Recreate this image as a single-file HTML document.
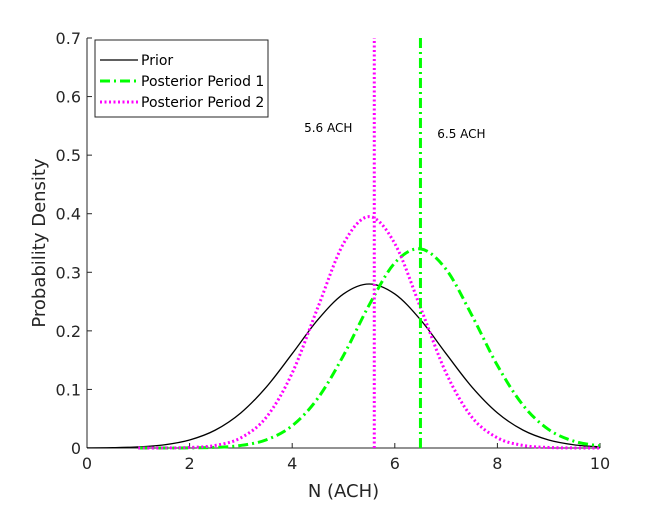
<!DOCTYPE html>
<html><head><meta charset="utf-8"><style>
html,body{margin:0;padding:0;background:#fff;}
svg text{font-family:"DejaVu Sans","Liberation Sans",sans-serif;}
</style></head><body>
<svg id="chart" width="664" height="504" viewBox="0 0 664 504" xmlns="http://www.w3.org/2000/svg">
<rect width="664" height="504" fill="#fff"/>
<g id="plot"></g>
</svg>
<script>
const xs = [0,0.5,1,1.5,2,2.5,3,3.5,4,4.5,5,5.5,6,6.5,7,7.5,8,8.5,9,9.5,10];
const priorVals = [0.0002,0.0006,0.0019,0.0054,0.0137,0.0305,0.060,0.1045,0.161,0.219,0.263,0.28,0.263,0.219,0.161,0.1045,0.060,0.0305,0.0137,0.0054,0.0019];
const post1Xs = [1,1.5,2,2.5,3,3.5,4,4.5,5,5.5,6,6.5,7,7.5,8,8.5,9,9.5,10];
const post1Vals = [0,0,0.0002,0.0011,0.0044,0.0141,0.038,0.085,0.158,0.244,0.316,0.34,0.305,0.227,0.141,0.073,0.0315,0.0114,0.0034];
const post2Xs = [1,1.5,2,2.5,3,3.5,4,4.5,5,5.5,6,6.5,7,7.5,8,8.5,9,9.5,10];
const post2Vals = [0,0.0001,0.0009,0.0044,0.0174,0.053,0.128,0.240,0.349,0.395,0.349,0.240,0.128,0.053,0.0174,0.0044,0.0009,0.0001,0];
const markers = [5.6, 6.5];
const markerLabels = ["5.6 ACH","6.5 ACH"];
const xTicks = [0,2,4,6,8,10];
const yTicks = [0,0.1,0.2,0.3,0.4,0.5,0.6,0.7];

const X0=87,X1=600,Y0=448,Y1=38;
const sx=v=>X0+(v-0)/(10-0)*(X1-X0);
const sy=v=>Y0-(v-0)/(0.7-0)*(Y0-Y1);
const NS="http://www.w3.org/2000/svg";
const g=document.getElementById('plot');
function mk(t,a){const e=document.createElementNS(NS,t);for(const k in a)e.setAttribute(k,a[k]);g.appendChild(e);return e;}
function smooth(px,py){
  const p=px.map((x,i)=>[sx(x),sy(py[i])]);
  let d="M"+p[0][0]+","+p[0][1];
  for(let i=0;i<p.length-1;i++){
    const p0=p[i-1]||p[i],p1=p[i],p2=p[i+1],p3=p[i+2]||p[i+1];
    const c1=[p1[0]+(p2[0]-p0[0])/6,p1[1]+(p2[1]-p0[1])/6];
    const c2=[p2[0]-(p3[0]-p1[0])/6,p2[1]-(p3[1]-p1[1])/6];
    d+=" C"+c1+" "+c2+" "+p2;
  }
  return d;
}
let e=mk('line',{x1:X0,y1:Y0,x2:X1,y2:Y0,stroke:'#262626','stroke-width':1});


e=mk('line',{x1:X0,y1:Y0,x2:X0,y2:Y1,stroke:'#262626','stroke-width':1});


xTicks.forEach(t=>{
  mk('line',{x1:sx(t),y1:Y0,x2:sx(t),y2:Y0-5,stroke:'#262626'});
  e=mk('text',{x:sx(t),y:Y0+21,'text-anchor':'middle','font-size':16,fill:'#262626'});
  e.textContent=t;
  
  
});
yTicks.forEach(t=>{
  mk('line',{x1:X0,y1:sy(t),x2:X0+5,y2:sy(t),stroke:'#262626'});
  e=mk('text',{x:X0-6,y:sy(t)+6,'text-anchor':'end','font-size':16,fill:'#262626'});
  e.textContent=t===0?"0":t.toFixed(1);
  
  
});
e=mk('text',{x:(X0+X1)/2,y:497,'text-anchor':'middle','font-size':18,fill:'#262626'});
e.textContent="N (ACH)";


e=mk('text',{x:0,y:0,'text-anchor':'middle','font-size':18,fill:'#262626',transform:'translate(45,243) rotate(-90)'});
e.textContent="Probability Density";


e=mk('path',{d:smooth(xs,priorVals),fill:'none',stroke:'#000','stroke-width':1.3});


e=mk('path',{d:smooth(post1Xs,post1Vals),fill:'none',stroke:'#00ff00','stroke-width':3,'stroke-dasharray':'10,4,2,4'});


e=mk('path',{d:smooth(post2Xs,post2Vals),fill:'none',stroke:'#ff00ff','stroke-width':3,'stroke-dasharray':'2,2.5'});


e=mk('line',{x1:sx(markers[0]),y1:Y0,x2:sx(markers[0]),y2:Y1,stroke:'#ff00ff','stroke-width':3,'stroke-dasharray':'2,2.5'});


e=mk('line',{x1:sx(markers[1]),y1:Y0,x2:sx(markers[1]),y2:Y1,stroke:'#00ff00','stroke-width':3,'stroke-dasharray':'10,4,2,4'});


e=mk('text',{x:sx(markers[0])-46,y:132,'text-anchor':'middle','font-size':12,fill:'#000'});
e.textContent=markerLabels[0];


e=mk('text',{x:sx(markers[1])+41,y:138,'text-anchor':'middle','font-size':12,fill:'#000'});
e.textContent=markerLabels[1];


e=mk('rect',{x:95,y:40,width:173,height:77,fill:'#fff',stroke:'#262626','stroke-width':1});


const leg=[["Prior","#000",1.3,"none"],["Posterior Period 1","#00ff00",3,"10,4,2,4"],["Posterior Period 2","#ff00ff",3,"2,2.5"]];
leg.forEach((l,i)=>{
  const y=60+i*21;
  mk('line',{x1:100,y1:y,x2:138,y2:y,stroke:l[1],'stroke-width':l[2],'stroke-dasharray':l[3]});
  e=mk('text',{x:141,y:y+5,'font-size':14,fill:'#000'});
  e.textContent=l[0];
  
  
});
</script>
</body></html>
